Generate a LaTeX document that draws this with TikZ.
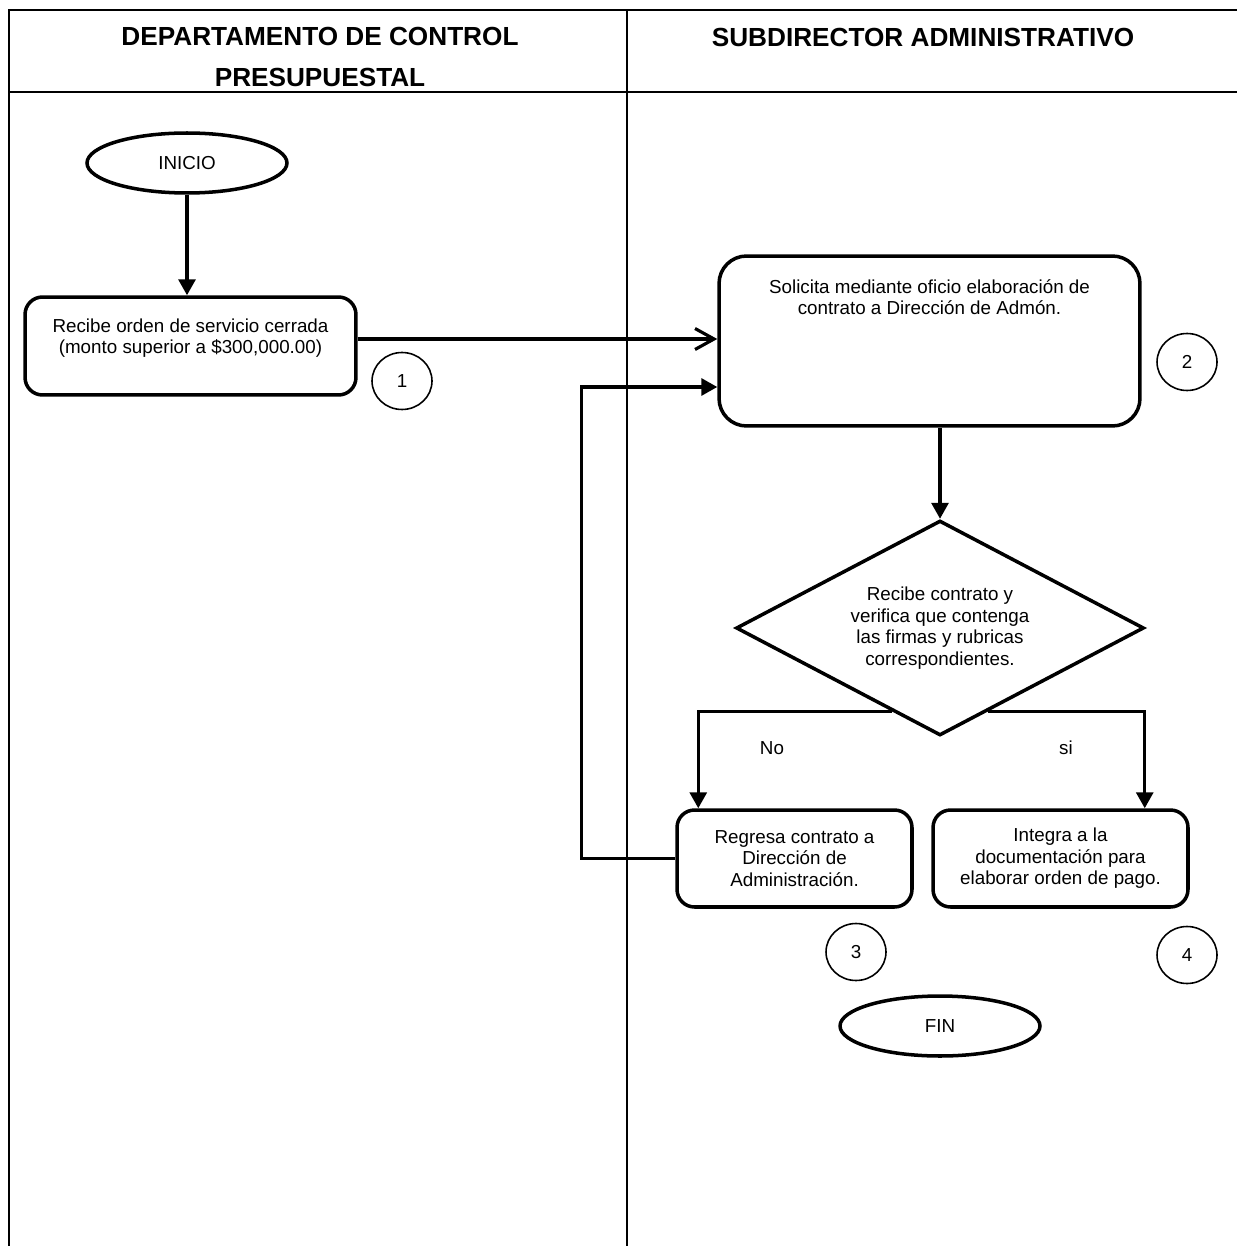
\documentclass[tikz,border=0pt]{standalone}
\usepackage{fontspec}
\setmainfont{Liberation Sans}
\usetikzlibrary{shapes.geometric,arrows.meta,calc}

\newcommand{\boxtext}[4]{\parbox[c][#1][t]{#2}{\centering\vspace*{#3}#4}}

\begin{document}
\begin{tikzpicture}[x=0.02cm, y=-0.02cm,
		font=\fontsize{10.7}{12.2}\selectfont,
		frame/.style={line width=1.1pt},
		head/.style={font=\fontsize{14.9}{22.8}\selectfont\bfseries, align=center},
		proc/.style={draw, line width=2pt, rounded corners=0.35cm, align=center, inner sep=0pt},
		dec/.style={draw, diamond, shape aspect=2, line width=2pt, align=center, inner sep=0pt},
		term/.style={draw, ellipse, line width=2pt, minimum width=4cm, minimum height=1.2cm},
		num/.style={draw, ellipse, line width=0.9pt, minimum width=1.2cm, minimum height=1.14cm, inner sep=0pt},
		flow/.style={line width=1.8pt, -{Triangle[length=0.32cm, width=0.34cm]}},
		openflow/.style={line width=1.8pt, -{Straight Barb[length=0.38cm, width=0.42cm]}}]
		\useasboundingbox (0,0) rectangle (1237,1246);

		% Frame and header
		\draw[frame] (9,1246) -- (9,10) -- (1237,10);
		\draw[frame] (9,92) -- (1237,92);
		\draw[frame] (627,10) -- (627,1246);
		\node[head] (dep) at (320,57) {DEPARTAMENTO DE CONTROL\\PRESUPUESTAL};
		\node[head] (sub) at (923,37) {SUBDIRECTOR ADMINISTRATIVO};

		% Departamento de Control Presupuestal
		\node[term] (ini) at (187,163) {INICIO};
		\node[proc] (rec) at (190.5,346) {\boxtext{1.96cm}{6.62cm}{0.43cm}{Recibe orden de servicio cerrada\\(monto superior a \$300,000.00)}};
		\node[num] (n1) at (402,381) {1};

		% Subdirector Administrativo
		\node[proc, rounded corners=0.55cm] (sol) at (929.5,341) {\boxtext{3.4cm}{8.42cm}{0.47cm}{Solicita mediante oficio elaboración de\\contrato a Dirección de Admón.}};
		\node[num] (n2) at (1187,362) {2};
		\node[dec, minimum width=8.16cm, minimum height=4.3cm] (ver) at (940,628) {Recibe contrato y\\verifica que contenga\\las firmas y rubricas\\correspondientes.};
		\node (no) at (772,748) {No};
		\node (si) at (1066,748) {si};
		\node[proc, minimum width=4.7cm, minimum height=1.94cm] (reg) at (794.5,858.5) {Regresa contrato a\\Dirección de\\Administración.};
		\node[proc, minimum width=5.1cm, minimum height=1.94cm] (int) at (1060.5,858.5) {Integra a la\\documentación para\\elaborar orden de pago.};
		\node[num] (n3) at (856,952) {3};
		\node[num] (n4) at (1187,955) {4};
		\node[term] (fin) at (940,1026) {FIN};

		% Connections
		\draw[flow] (ini.south) -- (ini.south |- rec.north);
		\draw[openflow] (rec.east |- 0,339) -- (sol.west |- 0,339);
		\draw[flow] (sol.south -| ver.north) -- (ver.north);
		\draw[flow] (ver.240) -| ($(reg.north west)+(23,0)$);
		\draw[flow] (ver.300) -| ($(int.north east)+(-45,0)$);
		\draw[flow] (reg.west) -- ++(-94,0) |- ($(sol.west)+(0,46)$);
	\end{tikzpicture}
\end{document}
